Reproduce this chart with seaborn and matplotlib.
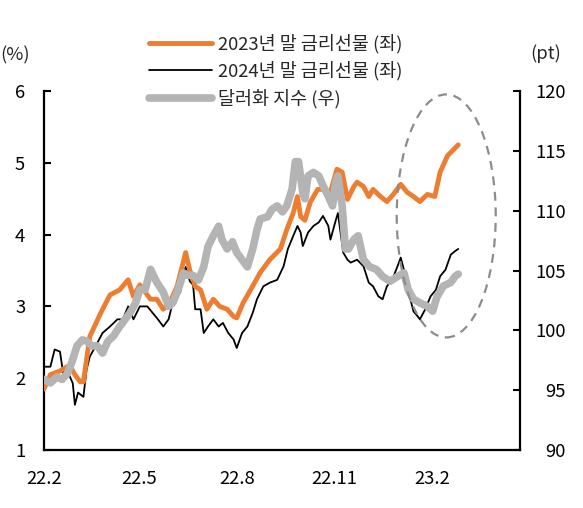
import numpy as np
import matplotlib
matplotlib.use("Agg")
import matplotlib.pyplot as plt
import matplotlib.dates as mdates
from matplotlib.patches import Ellipse
import pandas as pd
import seaborn as sns

sns.set_theme(style="white")
plt.rcParams['font.family'] = ['Noto Sans CJK KR', 'DejaVu Sans']

# 2023년 말 금리선물 (좌, %)
o_dates = ["2022-02-01", "2022-02-07", "2022-02-16", "2022-02-25", "2022-03-02", "2022-03-07",
           "2022-03-10", "2022-03-16", "2022-03-26", "2022-04-04", "2022-04-13", "2022-04-21",
           "2022-04-26", "2022-05-02", "2022-05-12", "2022-05-18", "2022-05-24", "2022-05-30",
           "2022-06-06", "2022-06-14", "2022-06-18", "2022-06-23", "2022-06-28", "2022-07-04",
           "2022-07-10", "2022-07-16", "2022-07-23", "2022-07-29", "2022-08-01", "2022-08-07",
           "2022-08-14", "2022-08-23", "2022-09-01", "2022-09-11", "2022-09-17", "2022-09-23",
           "2022-09-27", "2022-09-30", "2022-10-04", "2022-10-09", "2022-10-16", "2022-10-21",
           "2022-10-28", "2022-11-03", "2022-11-08", "2022-11-13", "2022-11-19", "2022-11-22",
           "2022-11-28", "2022-12-03", "2022-12-07", "2022-12-14", "2022-12-20", "2022-12-26",
           "2023-01-02", "2023-01-08", "2023-01-14", "2023-01-20", "2023-01-27", "2023-02-03",
           "2023-02-08", "2023-02-15", "2023-02-21", "2023-02-25"]
o_vals = [1.85, 2.05, 2.1, 2.18, 2.05, 1.95, 1.95, 2.58, 2.9, 3.16, 3.23, 3.37,
          3.14, 3.3, 3.1, 3.1, 2.96, 3.05, 3.28, 3.75, 3.5, 3.28, 3.23, 2.96,
          3.1, 3.0, 2.96, 2.86, 2.84, 3.05, 3.23, 3.47, 3.65, 3.8, 4.07, 4.3,
          4.53, 4.25, 4.2, 4.45, 4.63, 4.63, 4.59, 4.91, 4.87, 4.49, 4.67, 4.73,
          4.67, 4.53, 4.63, 4.53, 4.46, 4.56, 4.7, 4.59, 4.53, 4.46, 4.56, 4.53,
          4.87, 5.1, 5.19, 5.25]

# 2024년 말 금리선물 (좌, %)
b_dates = ["2022-02-01", "2022-02-07", "2022-02-11", "2022-02-16", "2022-02-19", "2022-02-23",
           "2022-02-28", "2022-03-02", "2022-03-05", "2022-03-10", "2022-03-13", "2022-03-16",
           "2022-03-23", "2022-03-28", "2022-04-04", "2022-04-11", "2022-04-16", "2022-04-21",
           "2022-04-26", "2022-05-02", "2022-05-09", "2022-05-14", "2022-05-19", "2022-05-24",
           "2022-05-29", "2022-06-01", "2022-06-09", "2022-06-14", "2022-06-18", "2022-06-21",
           "2022-06-23", "2022-06-28", "2022-07-01", "2022-07-05", "2022-07-10", "2022-07-15",
           "2022-07-19", "2022-07-24", "2022-07-29", "2022-08-01", "2022-08-06", "2022-08-11",
           "2022-08-16", "2022-08-20", "2022-08-26", "2022-09-01", "2022-09-08", "2022-09-14",
           "2022-09-18", "2022-09-23", "2022-09-27", "2022-09-30", "2022-10-02", "2022-10-07",
           "2022-10-12", "2022-10-17", "2022-10-21", "2022-10-26", "2022-10-28", "2022-11-02",
           "2022-11-04", "2022-11-09", "2022-11-13", "2022-11-16", "2022-11-22", "2022-11-28",
           "2022-12-03", "2022-12-07", "2022-12-12", "2022-12-16", "2022-12-20", "2022-12-25",
           "2022-12-30", "2023-01-02", "2023-01-05", "2023-01-08", "2023-01-11", "2023-01-14",
           "2023-01-18", "2023-01-20", "2023-01-25", "2023-01-30", "2023-02-04", "2023-02-08",
           "2023-02-13", "2023-02-18", "2023-02-22", "2023-02-25"]
b_vals = [2.16, 2.16, 2.4, 2.37, 2.07, 2.1, 1.93, 1.63, 1.8, 1.74, 2.12, 2.3,
          2.49, 2.63, 2.72, 2.82, 2.82, 3.0, 2.82, 3.0, 3.0, 2.91, 2.82, 2.72,
          2.82, 3.0, 3.2, 3.55, 3.35, 3.3, 2.96, 2.96, 2.63, 2.72, 2.82, 2.72,
          2.77, 2.63, 2.54, 2.42, 2.63, 2.72, 2.91, 3.1, 3.28, 3.33, 3.37, 3.56,
          3.8, 3.98, 4.12, 4.03, 3.84, 4.03, 4.12, 4.17, 4.26, 4.12, 3.93, 4.2,
          4.3, 3.75, 3.65, 3.61, 3.65, 3.56, 3.33, 3.28, 3.14, 3.1, 3.28, 3.37,
          3.56, 3.68, 3.51, 3.28, 3.1, 2.93, 2.86, 2.82, 2.96, 3.14, 3.23, 3.42,
          3.51, 3.72, 3.77, 3.8]

# 달러화 지수 (우, pt)
g_dates = ["2022-02-01", "2022-02-07", "2022-02-13", "2022-02-18", "2022-02-23", "2022-02-27",
           "2022-03-04", "2022-03-09", "2022-03-13", "2022-03-18", "2022-03-23", "2022-03-28",
           "2022-04-02", "2022-04-07", "2022-04-13", "2022-04-18", "2022-04-23", "2022-04-28",
           "2022-05-02", "2022-05-07", "2022-05-12", "2022-05-18", "2022-05-24", "2022-05-29",
           "2022-06-02", "2022-06-07", "2022-06-12", "2022-06-16", "2022-06-21", "2022-06-26",
           "2022-07-01", "2022-07-05", "2022-07-10", "2022-07-15", "2022-07-18", "2022-07-23",
           "2022-07-28", "2022-08-01", "2022-08-06", "2022-08-11", "2022-08-16", "2022-08-20",
           "2022-08-23", "2022-08-30", "2022-09-03", "2022-09-08", "2022-09-13", "2022-09-17",
           "2022-09-22", "2022-09-25", "2022-09-28", "2022-10-02", "2022-10-04", "2022-10-07",
           "2022-10-12", "2022-10-17", "2022-10-21", "2022-10-26", "2022-10-30", "2022-11-02",
           "2022-11-04", "2022-11-08", "2022-11-11", "2022-11-14", "2022-11-19", "2022-11-23",
           "2022-11-28", "2022-12-04", "2022-12-10", "2022-12-16", "2022-12-23", "2022-12-30",
           "2023-01-05", "2023-01-09", "2023-01-14", "2023-01-20", "2023-01-27", "2023-02-01",
           "2023-02-05", "2023-02-11", "2023-02-18", "2023-02-22", "2023-02-25"]
g_vals = [95.9, 95.6, 96.1, 95.9, 96.4, 97.3, 98.7, 99.2, 99.1, 98.7, 98.7, 98.1,
          99.1, 99.5, 100.3, 100.9, 101.5, 102.3, 103.4, 103.4, 105.1, 104.0, 103.2, 102.0,
          102.3, 103.4, 104.8, 104.6, 104.6, 104.2, 105.3, 107.0, 107.9, 108.7, 107.6, 106.8,
          107.4, 106.5, 105.9, 105.3, 106.8, 108.4, 109.3, 109.5, 110.1, 110.4, 109.9, 110.4,
          111.8, 114.1, 114.1, 111.5, 111.0, 112.9, 113.2, 112.9, 112.1, 111.2, 110.4, 112.4,
          112.9, 110.4, 106.8, 106.8, 107.6, 107.9, 105.9, 105.3, 105.1, 104.5, 104.1, 104.5,
          104.8, 103.4, 102.6, 102.3, 102.0, 101.6, 102.8, 103.7, 104.0, 104.5, 104.7]

x_ticks = ["2022-02-01", "2022-05-01", "2022-08-01", "2022-11-01", "2023-02-01"]
x_labels = ["22.2", "22.5", "22.8", "22.11", "23.2"]
labels = ["2023년 말 금리선물 (좌)", "2024년 말 금리선물 (좌)", "달러화 지수 (우)"]

orange = "#ED7D31"
gray = "#B4B4B4"
fs = 13.3

df_o = pd.DataFrame({"date": pd.to_datetime(o_dates), "v": o_vals})
df_b = pd.DataFrame({"date": pd.to_datetime(b_dates), "v": b_vals})
df_g = pd.DataFrame({"date": pd.to_datetime(g_dates), "v": g_vals})

fig = plt.figure(figsize=(5.83, 5.08), dpi=100)
ax = fig.add_axes([44 / 583, 58 / 508, 476 / 583, 359 / 508])
ax2 = ax.twinx()

sns.lineplot(data=df_b, x="date", y="v", ax=ax, color="black", linewidth=1.3, zorder=2)
sns.lineplot(data=df_o, x="date", y="v", ax=ax, color=orange, linewidth=3.5, zorder=3)
sns.lineplot(data=df_g, x="date", y="v", ax=ax2, color=gray, linewidth=5.5, zorder=3)

ax.set_xlim(pd.Timestamp("2022-02-01"), pd.Timestamp("2023-04-24"))
ax.set_ylim(1, 6)
ax2.set_ylim(90, 120)
ax.set_yticks(range(1, 7))
ax2.set_yticks(range(90, 121, 5))
ax.set_xticks(pd.to_datetime(x_ticks))
ax.set_xticklabels(x_labels)
ax.set_xlabel("")
ax.set_ylabel("")
ax2.set_ylabel("")

for a in (ax, ax2):
    a.grid(False)
    a.spines["top"].set_visible(False)
    for s in ("left", "right", "bottom"):
        a.spines[s].set_color("black")
        a.spines[s].set_linewidth(1.6)
ax.spines["right"].set_visible(False)
ax2.spines["left"].set_visible(False)
ax2.spines["bottom"].set_visible(False)

ax.tick_params(axis="x", direction="in", length=5, width=1.5, pad=14.5, labelsize=fs, colors="black")
ax.tick_params(axis="y", direction="in", length=5, width=1.5, pad=13.5, labelsize=fs,
               left=True, colors="black")
ax2.tick_params(axis="y", direction="in", length=5, width=1.5, pad=33, labelsize=fs,
                right=True, colors="black")
for lbl in ax2.get_yticklabels():
    lbl.set_horizontalalignment("right")

fig.text(15 / 583, 1 - 55 / 508, "(%)", ha="center", va="center", fontsize=fs)
fig.text(546 / 583, 1 - 54 / 508, "(pt)", ha="center", va="center", fontsize=fs)

ell = Ellipse((0.845, 0.652), 0.208, 0.677, transform=ax.transAxes, fill=False,
              edgecolor="#8C8C8C", linewidth=1.6, linestyle=(0, (4, 3)), zorder=5)
ax2.add_patch(ell)

handles = [ax.lines[1], ax.lines[0], ax2.lines[0]]
fig.legend(handles, labels, loc="upper left", bbox_to_anchor=(149 / 583, 1 - 34 / 508),
           frameon=False, fontsize=fs, handlelength=3.4, handletextpad=0.33,
           labelspacing=0.42, borderpad=0, borderaxespad=0)

fig.savefig("out.png", dpi=100)
